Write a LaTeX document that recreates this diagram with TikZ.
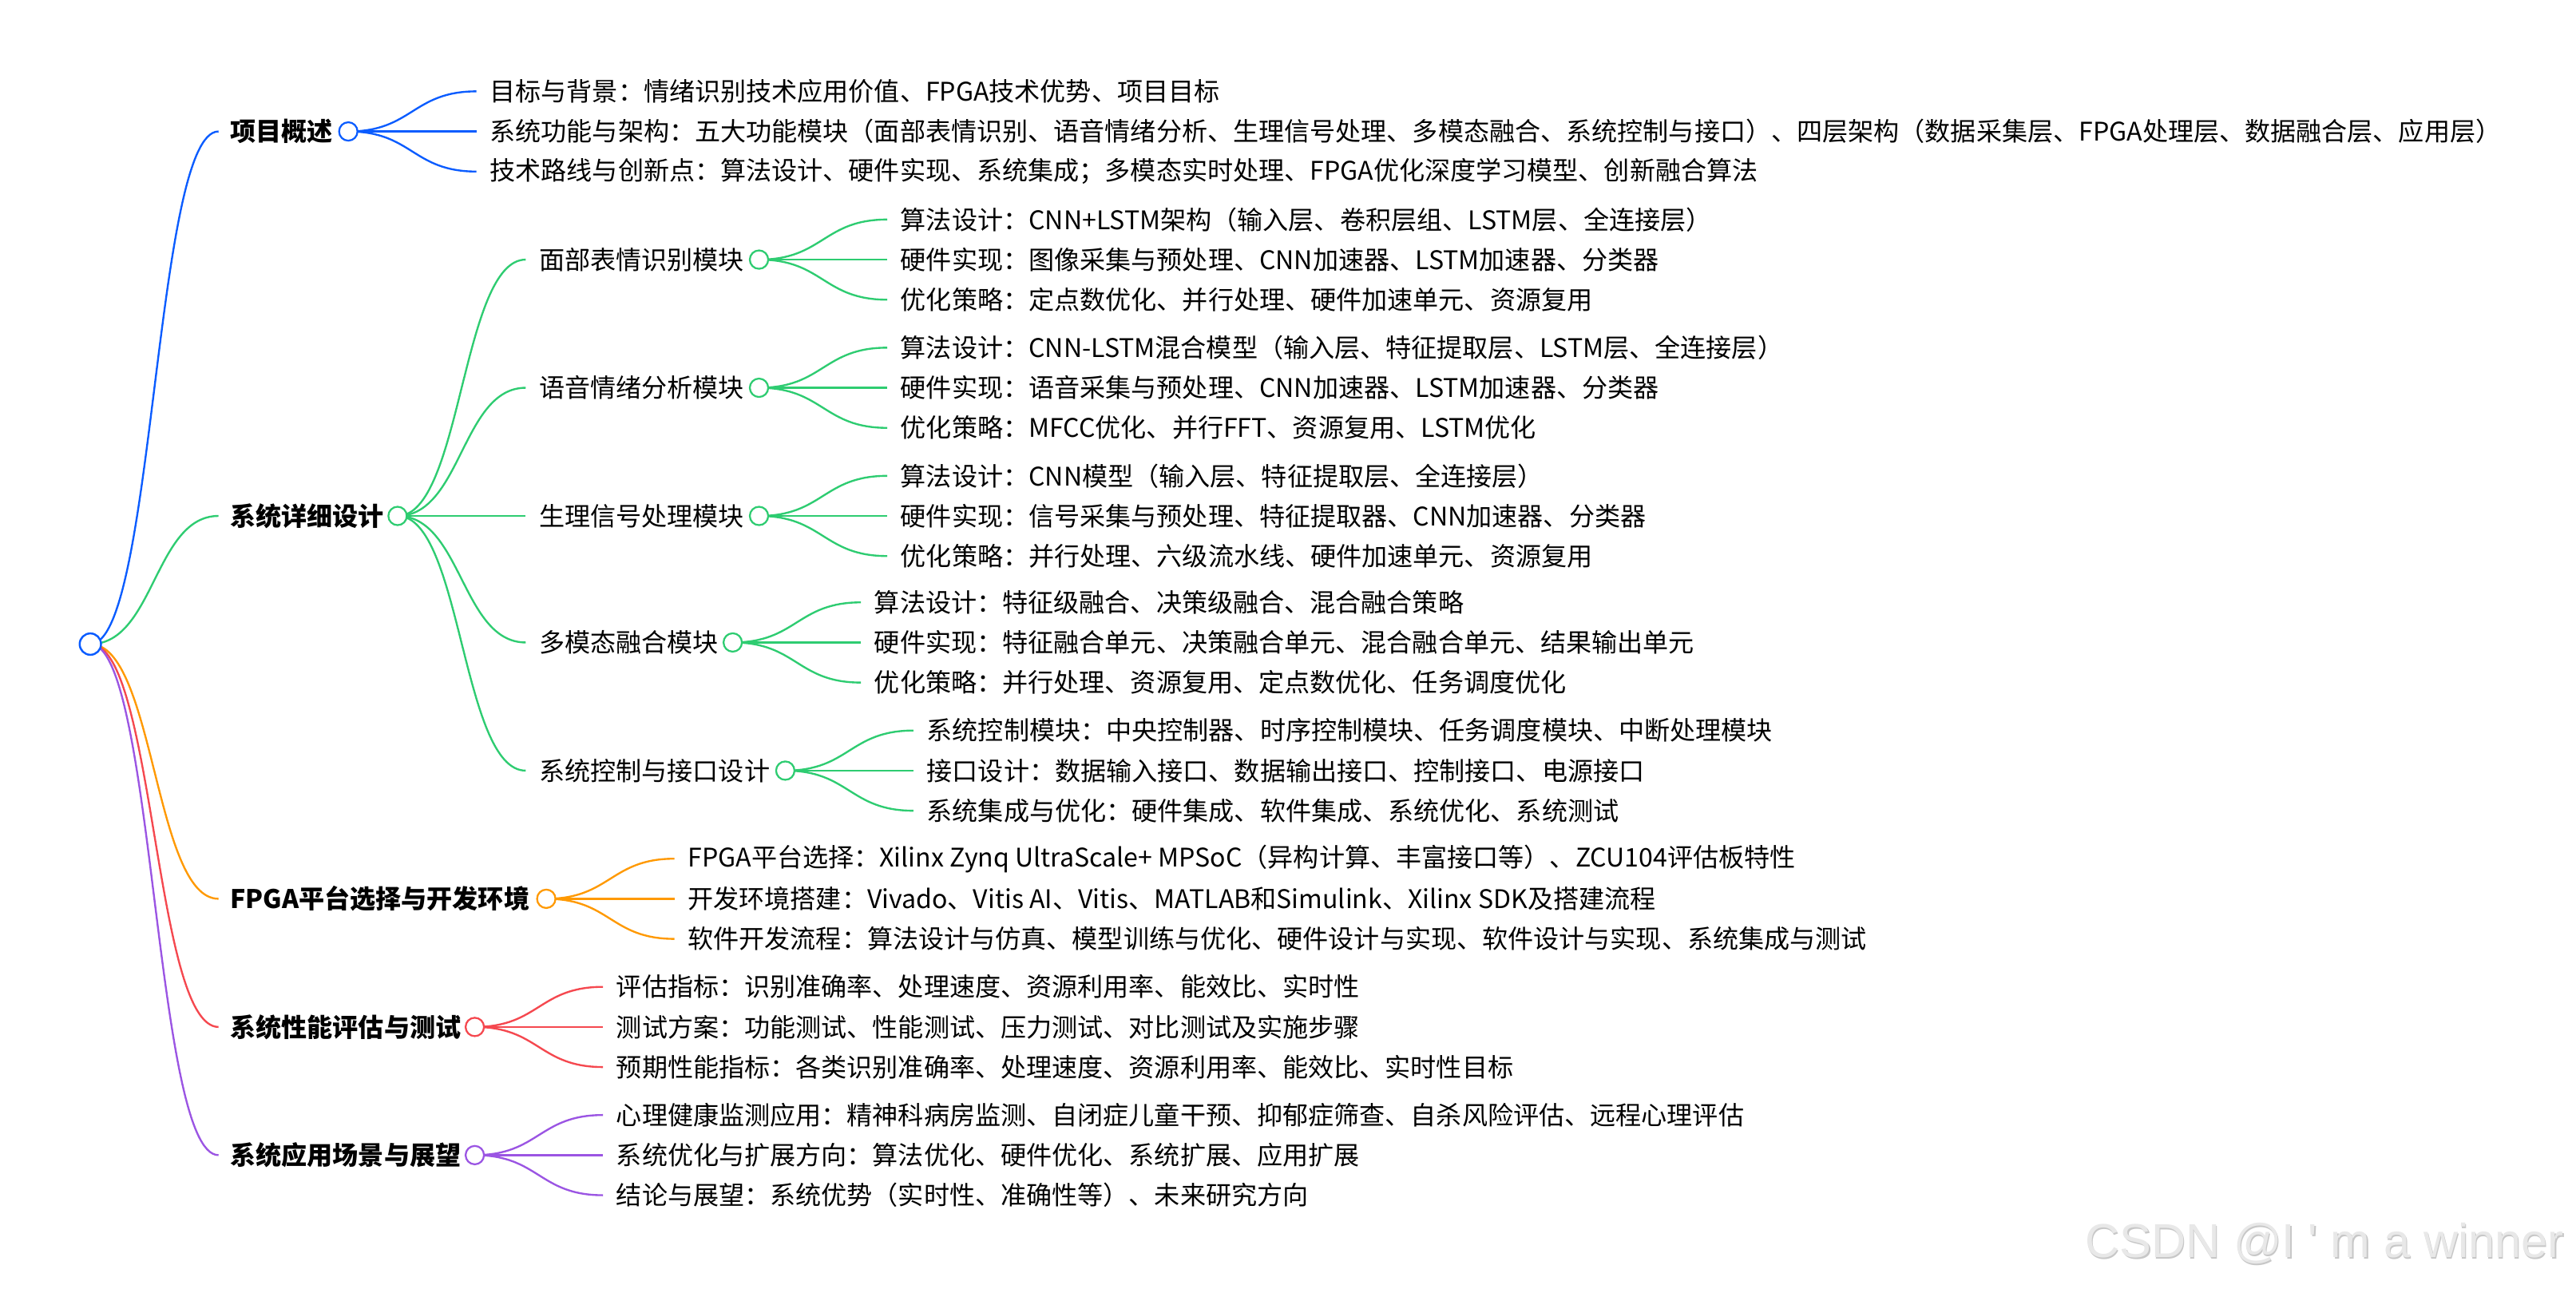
\documentclass[tikz,border=0pt]{standalone}
\usepackage{fontspec}
\setmainfont{Noto Sans CJK SC}
\newfontfamily\wmfont{Liberation Sans}
\usetikzlibrary{calc}
\pgfdeclarelayer{paper}
\pgfdeclarelayer{links}
\pgfsetlayers{paper,links,main}

\definecolor{cblue}{HTML}{0A5CFF}
\definecolor{cgreen}{HTML}{2ECC71}
\definecolor{corange}{HTML}{FF9900}
\definecolor{cred}{HTML}{F5484F}
\definecolor{cpurple}{HTML}{9B55E3}

% curved link, horizontal at both ends
\newcommand\bend[3]{\draw[link=#1] let \p1=(#2), \p2=(#3) in
  (\p1) .. controls ({0.5*\x1+0.5*\x2},\y1) and ({0.5*\x1+0.5*\x2},\y2) .. (\p2);}

\begin{document}
\begin{tikzpicture}[x=1pt,y=-1pt]
\tikzset{
  root/.style={circle, draw=#1, fill=white, line width=1.2pt, minimum size=13pt, inner sep=0pt},
  dot/.style={circle, draw=#1, fill=white, line width=1.1pt, minimum size=11.2pt, inner sep=0pt},
  topic/.style={anchor=west, inner sep=0pt, font=\fontsize{15.6}{18}\selectfont\bfseries},
  item/.style={anchor=west, inner sep=0pt, font=\fontsize{15.6}{18}\selectfont},
  link/.style={draw=#1, line width=1.15pt},
  wm/.style={inner sep=0pt, font=\wmfont\fontsize{29}{32}\selectfont},
}
\begin{pgfonlayer}{paper}
\fill [white] (0,0) rectangle (1568,784);
\end{pgfonlayer}
\useasboundingbox (0,0) rectangle (1568,784);

\node [root=cblue] (R) at (55,392) {};

%% level 1
\node [topic] (T1) at (140,80)  {项目概述};
\node [topic] (T2) at (140,314) {系统详细设计};
\node [topic] (T3) at (140,547) {FPGA平台选择与开发环境};
\node [topic] (T4) at (140,625) {系统性能评估与测试};
\node [topic] (T5) at (140,703) {系统应用场景与展望};

\node [dot=cblue]   (c1) at (212,80)  {};
\node [dot=cgreen]  (c2) at (242,314) {};
\node [dot=corange] (c3) at (332.5,547) {};
\node [dot=cred]    (c4) at (289,625) {};
\node [dot=cpurple] (c5) at (289,703) {};

%% 项目概述
\node [item] (a1) at (298,55.6)  {目标与背景：情绪识别技术应用价值、FPGA技术优势、项目目标};
\node [item] (a2) at (298,80)    {系统功能与架构：五大功能模块（面部表情识别、语音情绪分析、生理信号处理、多模态融合、系统控制与接口）、四层架构（数据采集层、FPGA处理层、数据融合层、应用层）};
\node [item] (a3) at (298,104.4) {技术路线与创新点：算法设计、硬件实现、系统集成；多模态实时处理、FPGA优化深度学习模型、创新融合算法};

%% 系统详细设计
\node [item] (m1) at (328,158) {面部表情识别模块};
\node [item] (m2) at (328,236) {语音情绪分析模块};
\node [item] (m3) at (328,314) {生理信号处理模块};
\node [item] (m4) at (328,391) {多模态融合模块};
\node [item] (m5) at (328,469) {系统控制与接口设计};

\node [dot=cgreen] (d1) at (462,158) {};
\node [dot=cgreen] (d2) at (462,236) {};
\node [dot=cgreen] (d3) at (462,314) {};
\node [dot=cgreen] (d4) at (446,391) {};
\node [dot=cgreen] (d5) at (478,469) {};

\node [item] (b11) at (548,133.6) {算法设计：CNN+LSTM架构（输入层、卷积层组、LSTM层、全连接层）};
\node [item] (b12) at (548,158)   {硬件实现：图像采集与预处理、CNN加速器、LSTM加速器、分类器};
\node [item] (b13) at (548,182.4) {优化策略：定点数优化、并行处理、硬件加速单元、资源复用};

\node [item] (b21) at (548,211.6) {算法设计：CNN-LSTM混合模型（输入层、特征提取层、LSTM层、全连接层）};
\node [item] (b22) at (548,236)   {硬件实现：语音采集与预处理、CNN加速器、LSTM加速器、分类器};
\node [item] (b23) at (548,260.4) {优化策略：MFCC优化、并行FFT、资源复用、LSTM优化};

\node [item] (b31) at (548,289.6) {算法设计：CNN模型（输入层、特征提取层、全连接层）};
\node [item] (b32) at (548,314)   {硬件实现：信号采集与预处理、特征提取器、CNN加速器、分类器};
\node [item] (b33) at (548,338.4) {优化策略：并行处理、六级流水线、硬件加速单元、资源复用};

\node [item] (b41) at (532,366.6) {算法设计：特征级融合、决策级融合、混合融合策略};
\node [item] (b42) at (532,391)   {硬件实现：特征融合单元、决策融合单元、混合融合单元、结果输出单元};
\node [item] (b43) at (532,415.4) {优化策略：并行处理、资源复用、定点数优化、任务调度优化};

\node [item] (b51) at (564,444.6) {系统控制模块：中央控制器、时序控制模块、任务调度模块、中断处理模块};
\node [item] (b52) at (564,469)   {接口设计：数据输入接口、数据输出接口、控制接口、电源接口};
\node [item] (b53) at (564,493.4) {系统集成与优化：硬件集成、软件集成、系统优化、系统测试};

%% FPGA平台选择与开发环境
\node [item] (e1) at (418.5,522.6) {FPGA平台选择：Xilinx Zynq UltraScale+ MPSoC（异构计算、丰富接口等）、ZCU104评估板特性};
\node [item] (e2) at (418.5,547)   {开发环境搭建：Vivado、Vitis AI、Vitis、MATLAB和Simulink、Xilinx SDK及搭建流程};
\node [item] (e3) at (418.5,571.4) {软件开发流程：算法设计与仿真、模型训练与优化、硬件设计与实现、软件设计与实现、系统集成与测试};

%% 系统性能评估与测试
\node [item] (f1) at (375,600.6) {评估指标：识别准确率、处理速度、资源利用率、能效比、实时性};
\node [item] (f2) at (375,625)   {测试方案：功能测试、性能测试、压力测试、对比测试及实施步骤};
\node [item] (f3) at (375,649.4) {预期性能指标：各类识别准确率、处理速度、资源利用率、能效比、实时性目标};

%% 系统应用场景与展望
\node [item] (g1) at (375,678.6) {心理健康监测应用：精神科病房监测、自闭症儿童干预、抑郁症筛查、自杀风险评估、远程心理评估};
\node [item] (g2) at (375,703)   {系统优化与扩展方向：算法优化、硬件优化、系统扩展、应用扩展};
\node [item] (g3) at (375,727.4) {结论与展望：系统优势（实时性、准确性等）、未来研究方向};

%% links
\begin{pgfonlayer}{links}
\bend{cblue}{R}{[xshift=-7pt]T1.west}
\bend{cgreen}{R}{[xshift=-7pt]T2.west}
\bend{corange}{R}{[xshift=-7pt]T3.west}
\bend{cred}{R}{[xshift=-7pt]T4.west}
\bend{cpurple}{R}{[xshift=-7pt]T5.west}

\bend{cblue}{c1}{[xshift=-8pt]a1.west}
\bend{cblue}{c1}{[xshift=-8pt]a2.west}
\bend{cblue}{c1}{[xshift=-8pt]a3.west}

\foreach \m in {1,...,5}
  \bend{cgreen}{c2}{[xshift=-8pt]m\m.west};

\foreach \m in {1,...,5}
  \foreach \k in {1,2,3}
    \bend{cgreen}{d\m}{[xshift=-8pt]b\m\k.west};

\foreach \k in {1,2,3} {
  \bend{corange}{c3}{[xshift=-8pt]e\k.west}
  \bend{cred}{c4}{[xshift=-8pt]f\k.west}
  \bend{cpurple}{c5}{[xshift=-8pt]g\k.west}
}
\end{pgfonlayer}

%% watermark
\node [wm, text=black!22] (wms) at (1415.6,757.6) {CSDN @I ' m a winner};
\node [wm, text=black!9]  (wm)  at (1415,757)     {CSDN @I ' m a winner};

\end{tikzpicture}
\end{document}
